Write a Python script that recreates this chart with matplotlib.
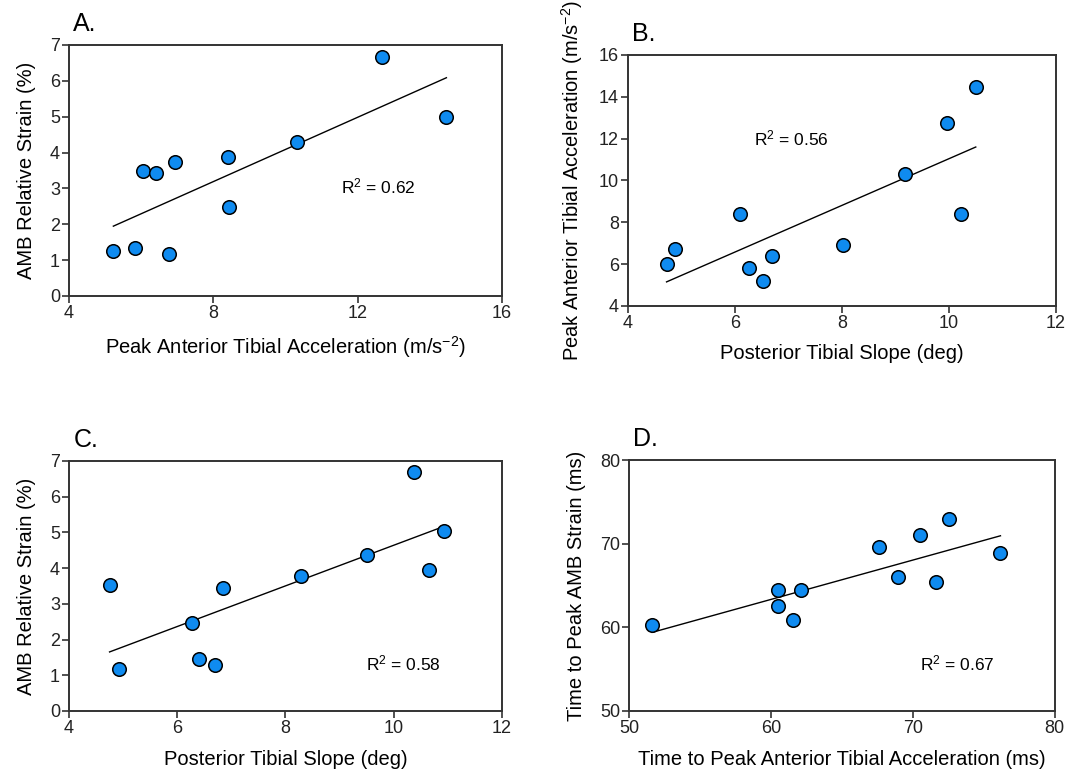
import matplotlib
matplotlib.use("Agg")
import matplotlib.pyplot as plt
import numpy as np

plt.rcParams['font.family'] = ['Liberation Sans', 'DejaVu Sans']
plt.rcParams['mathtext.default'] = 'regular'

# A. AMB strain vs peak anterior tibial acceleration
a_x = [5.23, 5.82, 6.76, 6.05, 6.42, 6.95, 8.42, 8.44, 10.33, 12.68, 14.46]
a_y = [1.26, 1.35, 1.16, 3.48, 3.42, 3.73, 3.88, 2.47, 4.29, 6.66, 4.98]

# B. peak anterior tibial acceleration vs posterior tibial slope
b_x = [4.72, 4.88, 6.10, 6.27, 6.53, 6.70, 8.01, 9.18, 9.97, 10.22, 10.50]
b_y = [6.02, 6.73, 8.42, 5.80, 5.20, 6.38, 6.90, 10.32, 12.77, 8.42, 14.46]

# C. AMB strain vs posterior tibial slope
c_x = [4.75, 4.93, 6.27, 6.40, 6.69, 6.85, 8.28, 9.51, 10.38, 10.65, 10.93]
c_y = [3.53, 1.18, 2.47, 1.45, 1.30, 3.44, 3.78, 4.37, 6.68, 3.96, 5.03]

# D. time to peak strain vs time to peak acceleration
d_x = [51.64, 60.54, 60.54, 61.58, 62.16, 67.66, 68.98, 70.51, 71.61, 72.59, 76.19]
d_y = [60.24, 64.51, 62.59, 60.88, 64.51, 69.59, 66.07, 71.10, 65.47, 72.99, 68.94]

r2_labels = ['0.62', '0.56', '0.58', '0.67']
panel_labels = ['A.', 'B.', 'C.', 'D.']

fig = plt.figure(figsize=(10.71, 7.74), dpi=100)

axA = fig.add_axes([0.0644, 0.6176, 0.4043, 0.3243])
axB = fig.add_axes([0.5864, 0.6047, 0.3996, 0.3243])
axC = fig.add_axes([0.0644, 0.0814, 0.4043, 0.3230])
axD = fig.add_axes([0.5873, 0.0814, 0.3973, 0.3240])

setup = [
    (axA, a_x, a_y, (4, 16), np.arange(4, 17, 4), (0, 7), np.arange(0, 8, 1),
     'Peak Anterior Tibial Acceleration (m/s$^{-2}$)', 'AMB Relative Strain (%)', (11.55, 3.06)),
    (axB, b_x, b_y, (4, 12), np.arange(4, 13, 2), (4, 16), np.arange(4, 17, 2),
     'Posterior Tibial Slope (deg)', 'Peak Anterior Tibial Acceleration (m/s$^{-2}$)', (6.36, 12.02)),
    (axC, c_x, c_y, (4, 12), np.arange(4, 13, 2), (0, 7), np.arange(0, 8, 1),
     'Posterior Tibial Slope (deg)', 'AMB Relative Strain (%)', (9.48, 1.33)),
    (axD, d_x, d_y, (50, 80), np.arange(50, 81, 10), (50, 80), np.arange(50, 81, 10),
     'Time to Peak Anterior Tibial Acceleration (ms)', 'Time to Peak AMB Strain (ms)', (70.55, 55.68)),
]

for i, (ax, x, y, xl, xt, yl, yt, xlab, ylab, txt) in enumerate(setup):
    x = np.array(x)
    y = np.array(y)
    # least squares trend line over the data range
    m, b = np.polyfit(x, y, 1)
    xs = np.array([x.min(), x.max()])
    ax.plot(xs, m * xs + b, color='black', lw=1.0, zorder=2)
    ax.scatter(x, y, s=95, color='#0F8BF0', edgecolors='black', linewidths=1.1, zorder=3)
    ax.set_xlim(xl)
    ax.set_ylim(yl)
    ax.set_xticks(xt)
    ax.set_yticks(yt)
    ax.tick_params(direction='out', length=5, width=1.1, labelsize=13, pad=1.5, colors='#222222')
    for sp in ax.spines.values():
        sp.set_linewidth(1.4)
        sp.set_color('#333333')
    ax.set_xlabel(xlab, fontsize=14.5, labelpad=9)
    ax.set_ylabel(ylab, fontsize=14.5, labelpad=10)
    ax.text(txt[0], txt[1], 'R$^2$ = ' + r2_labels[i], fontsize=12.5, va='center', ha='left')
    ax.text(0.01, 1.056, panel_labels[i], transform=ax.transAxes, fontsize=18,
            ha='left', va='baseline')

fig.savefig('out.png', dpi=100)
